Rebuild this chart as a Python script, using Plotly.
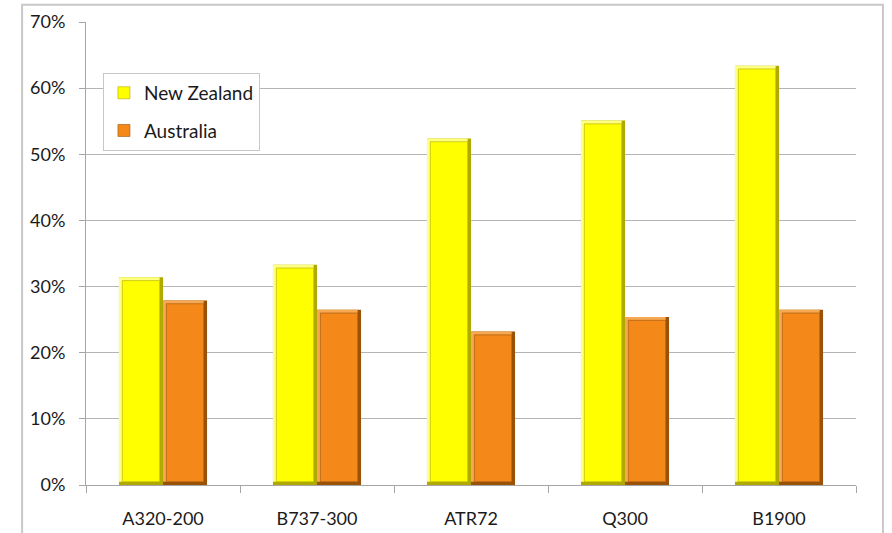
import plotly.graph_objects as go

# Share of passengers (%) by aircraft type
aircraft = ["A320-200", "B737-300", "ATR72", "Q300", "B1900"]
new_zealand = [31.4, 33.3, 52.4, 55.1, 63.4]
australia = [27.9, 26.5, 23.2, 25.4, 26.5]

FONT = "Lato"
BAR_W = 0.286          # bar width in category units
EDGE_X = 0.022         # bevel thickness (category units)
EDGE_Y = 0.5           # bevel thickness (percentage points)

series = [
    ("New Zealand", new_zealand, -BAR_W, "#ffff00", "#ffff80", "#b0aa00"),
    ("Australia", australia, 0.0, "#f4891a", "#f8a850", "#9a5208"),
]

fig = go.Figure()
for name, vals, off, face, light, dark in series:
    # dark under-layer forms the right and bottom bevel
    fig.add_trace(go.Bar(
        x=aircraft, y=vals, offset=off, width=BAR_W,
        marker=dict(color=dark, line=dict(width=0)),
        legendgroup=name, showlegend=False, hoverinfo="skip"))
    # light layer forms the top and left bevel
    fig.add_trace(go.Bar(
        x=aircraft, y=[v - EDGE_Y for v in vals], base=EDGE_Y,
        offset=off, width=BAR_W - EDGE_X,
        marker=dict(color=light, line=dict(width=0)),
        legendgroup=name, showlegend=False, hoverinfo="skip"))
    # main face
    fig.add_trace(go.Bar(
        x=aircraft, y=[v - 2 * EDGE_Y for v in vals], base=EDGE_Y,
        offset=off + EDGE_X, width=BAR_W - 2 * EDGE_X,
        marker=dict(color=face, line=dict(color=dark, width=0.6)),
        name=name, legendgroup=name, showlegend=True))

fig.update_layout(
    width=892, height=533,
    margin=dict(l=86, r=36, t=22, b=48),
    paper_bgcolor="white", plot_bgcolor="white",
    barmode="overlay",
    font=dict(family=FONT, size=18, color="#1a1a1a"),
    showlegend=True,
    legend=dict(
        x=0.022, y=0.89, xanchor="left", yanchor="top",
        bgcolor="white", bordercolor="#c8c8c8", borderwidth=1,
        font=dict(family=FONT, size=19, color="#1a1a1a"),
        tracegroupgap=10, itemwidth=30,
    ),
    xaxis=dict(
        type="category", showgrid=False, automargin=False,
        showline=True, linecolor="#a6a6a6", linewidth=1,
        ticks="outside", tickson="boundaries", ticklen=7,
        tickcolor="#a6a6a6", ticklabelstandoff=17,
        tickfont=dict(family=FONT, size=18),
        range=[-0.5, 4.5],
    ),
    yaxis=dict(
        range=[0, 70], dtick=10, ticksuffix="%", automargin=False,
        showgrid=True, gridcolor="#b5b5b5", gridwidth=1,
        showline=True, linecolor="#a6a6a6", linewidth=1,
        ticks="outside", ticklen=6, tickcolor="#a6a6a6",
        ticklabelstandoff=10, zeroline=False,
        tickfont=dict(family=FONT, size=18),
    ),
    shapes=[
        # outer chart frame
        dict(type="rect", xref="paper", yref="paper",
             x0=-0.083, x1=1.035, y0=-0.2, y1=1.037,
             line=dict(color="#c8c8c8", width=2), layer="below"),
    ],
)

fig.write_html("out.html")
